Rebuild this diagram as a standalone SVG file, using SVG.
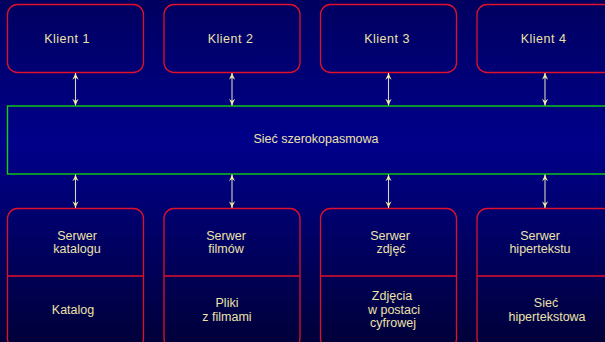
<svg xmlns="http://www.w3.org/2000/svg" width="605" height="342" viewBox="0 0 605 342">
<defs>
<linearGradient id="bg" x1="0" y1="0" x2="0" y2="1">
<stop offset="0" stop-color="#000060"/>
<stop offset="0.42" stop-color="#00008a"/>
<stop offset="1" stop-color="#00003a"/>
</linearGradient>
<marker id="ah" viewBox="0 0 10 10" refX="9.5" refY="5" markerWidth="7" markerHeight="7" orient="auto-start-reverse" markerUnits="userSpaceOnUse">
<path d="M0,0.5 Q5,3.5 10,5 Q5,6.5 0,9.5 L3,5 Z" fill="#f4eca0"/>
</marker>
</defs>
<style>
.box{fill:none;stroke:#e0102a;stroke-width:1.3}
.net{fill:none;stroke:#10d010;stroke-width:1.4}
.t{font-family:"Liberation Sans",Arial,sans-serif;font-size:12.5px;fill:#ece2a8;text-anchor:middle}
.c{stroke:#d6d4c0;stroke-width:1.1;fill:none;marker-start:url(#ah);marker-end:url(#ah)}
</style>
<rect width="605" height="342" fill="url(#bg)"/>
<g id="klient1"><rect class="box" x="7.5" y="4.5" width="136" height="68" rx="10"/><text class="t" x="67" y="43" letter-spacing="0.5">Klient 1</text></g>
<g id="klient2"><rect class="box" x="164" y="4.5" width="136" height="68" rx="10"/><text class="t" x="230.5" y="43" letter-spacing="0.5">Klient 2</text></g>
<g id="klient3"><rect class="box" x="320.5" y="4.5" width="136" height="68" rx="10"/><text class="t" x="387" y="43" letter-spacing="0.5">Klient 3</text></g>
<g id="klient4"><rect class="box" x="477" y="4.5" width="136" height="68" rx="10"/><text class="t" x="543.5" y="43" letter-spacing="0.5">Klient 4</text></g>
<g id="siec"><rect class="net" x="7.5" y="106" width="620" height="68"/><text class="t" x="316" y="143">Sieć szerokopasmowa</text></g>
<g id="serwer1"><rect class="box" x="7.5" y="208.5" width="136" height="140" rx="10"/><line class="box" x1="7.5" y1="276" x2="143.5" y2="276"/><text class="t" x="77" y="240">Serwer</text><text class="t" x="77" y="253">katalogu</text><text class="t" x="73" y="314">Katalog</text></g>
<g id="serwer2"><rect class="box" x="164" y="208.5" width="136" height="140" rx="10"/><line class="box" x1="164" y1="276" x2="300" y2="276"/><text class="t" x="226" y="240">Serwer</text><text class="t" x="226" y="253">filmów</text><text class="t" x="227" y="307">Pliki</text><text class="t" x="227" y="321">z filmami</text></g>
<g id="serwer3"><rect class="box" x="320.5" y="208.5" width="136" height="140" rx="10"/><line class="box" x1="320.5" y1="276" x2="456.5" y2="276"/><text class="t" x="390" y="240">Serwer</text><text class="t" x="391" y="253">zdjęć</text><text class="t" x="392" y="300">Zdjęcia</text><text class="t" x="394" y="314">w postaci</text><text class="t" x="393" y="327">cyfrowej</text></g>
<g id="serwer4"><rect class="box" x="477" y="208.5" width="136" height="140" rx="10"/><line class="box" x1="477" y1="276" x2="613" y2="276"/><text class="t" x="540" y="240">Serwer</text><text class="t" x="540" y="253">hipertekstu</text><text class="t" x="546" y="307">Sieć</text><text class="t" x="547" y="321">hipertekstowa</text></g>
<g id="connectors">
<line class="c" x1="75.5" y1="73" x2="75.5" y2="105.5"/>
<line class="c" x1="232" y1="73" x2="232" y2="105.5"/>
<line class="c" x1="388.5" y1="73" x2="388.5" y2="105.5"/>
<line class="c" x1="545" y1="73" x2="545" y2="105.5"/>
<line class="c" x1="75.5" y1="174.5" x2="75.5" y2="208"/>
<line class="c" x1="232" y1="174.5" x2="232" y2="208"/>
<line class="c" x1="388.5" y1="174.5" x2="388.5" y2="208"/>
<line class="c" x1="545" y1="174.5" x2="545" y2="208"/>
</g>
</svg>
